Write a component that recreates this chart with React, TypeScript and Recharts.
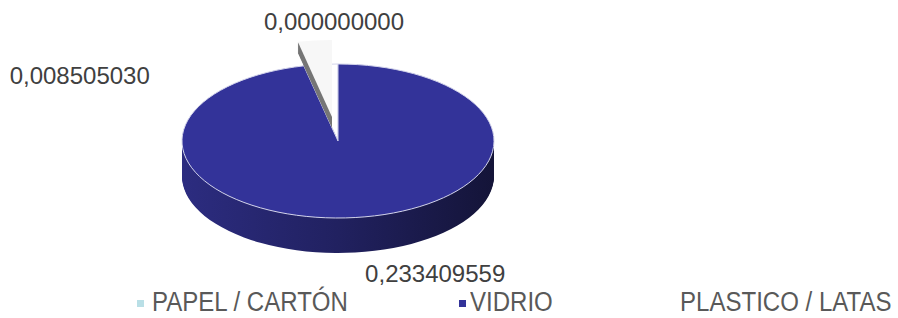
import React from "react";
import { PieChart, Pie, Cell } from "recharts";

// values
const categories = ["PAPEL / CARTÓN", "VIDRIO", "PLASTICO / LATAS"];
const values = [0.00850503, 0.233409559, 0.0];
const legendColors = ["#b9dfe6", "#333399", "#ffffff"];

const data = categories.map((name, i) => ({ name, value: values[i] }));

// layout of the fake 3D pie
const W = 898;
const H = 318;
const CX = 338;
const CY = 141;
const R = 156;
const SQ = 77 / 156;
const DEPTH = 35;
const EXP_X = -6;
const EXP_Y = -24;
const PAPEL_DEPTH = 11;

const sideLayers = Array.from({ length: DEPTH }, (_, i) => DEPTH - i);
const papelLayers = Array.from({ length: PAPEL_DEPTH }, (_, i) => PAPEL_DEPTH - i);

const labelPlace = [
  { dx: -171, dy: 20, anchor: "end" },
  { dx: 80, dy: 64, anchor: "middle" },
  { dx: -4, dy: -34, anchor: "middle" },
];

const legendPlace = [
  { marker: 137, text: 152 },
  { marker: 459, text: 470 },
  { marker: 667, text: 680 },
];

const fmt = (v: number) => v.toFixed(9).replace(".", ",");

const css = `
.squash .recharts-sector, path.squash {
  transform-origin: 0 0;
  transform: scale(1, ${SQ});
  vector-effect: non-scaling-stroke;
}
`;

const renderLabel = (props: any) => {
  const { cx, cy, midAngle, index, value } = props;
  const rad = (midAngle * Math.PI) / 180;
  const x = cx + R * Math.cos(rad);
  const y = cy - R * SQ * Math.sin(rad);
  const p = labelPlace[index];
  return (
    <text
      key={`lbl-${index}`}
      x={x + p.dx}
      y={y + p.dy}
      textAnchor={p.anchor}
      fill="#404040"
      fontSize={24}
      fontFamily="'Liberation Sans', Arial, sans-serif"
    >
      {fmt(value)}
    </text>
  );
};

export default function App() {
  return (
    <div style={{ position: "absolute", left: 0, top: 0, width: W, height: H, overflow: "hidden", background: "#fff" }}>
      <style>{css}</style>
      <PieChart width={W} height={H} margin={{ top: 0, right: 0, bottom: 0, left: 0 }}>
        <defs>
          <linearGradient id="vidrioSide" x1="0" y1="0" x2="1" y2="0">
            <stop offset="0%" stopColor="#2c2c80" />
            <stop offset="50%" stopColor="#212160" />
            <stop offset="100%" stopColor="#141438" />
          </linearGradient>
        </defs>

        {/* side wall of the disc */}
        {sideLayers.map((k) => (
          <Pie
            key={`side-${k}`}
            data={data}
            dataKey="value"
            nameKey="name"
            cx={CX}
            cy={(CY + k) / SQ}
            outerRadius={R}
            startAngle={90}
            endAngle={450}
            stroke="none"
            className="squash"
            isAnimationActive={false}
          >
            {data.map((d, i) => (
              <Cell key={d.name} className="squash" fill={i === 1 ? "url(#vidrioSide)" : "#1b1b50"} />
            ))}
          </Pie>
        ))}

        {/* top face */}
        <Pie
          data={data}
          dataKey="value"
          nameKey="name"
          cx={CX}
          cy={CY / SQ}
          outerRadius={R}
          startAngle={90}
          endAngle={450}
          stroke="#d4d5ec"
          strokeWidth={1}
          className="squash"
          isAnimationActive={false}
        >
          {data.map((d, i) => (
            <Cell key={d.name} className="squash" fill={["#ffffff", "#333399", "none"][i]} />
          ))}
        </Pie>

        {/* exploded small slice */}
        {papelLayers.map((k) => (
          <Pie
            key={`pap-${k}`}
            data={data}
            dataKey="value"
            nameKey="name"
            cx={CX + EXP_X}
            cy={(CY + EXP_Y + k) / SQ}
            outerRadius={R}
            startAngle={90}
            endAngle={450}
            stroke="none"
            className="squash"
            isAnimationActive={false}
          >
            {data.map((d, i) => (
              <Cell key={d.name} className="squash" fill={i === 0 ? "#767676" : "none"} />
            ))}
          </Pie>
        ))}
        <Pie
          data={data}
          dataKey="value"
          nameKey="name"
          cx={CX + EXP_X}
          cy={(CY + EXP_Y) / SQ}
          outerRadius={R}
          startAngle={90}
          endAngle={450}
          stroke="none"
          className="squash"
          isAnimationActive={false}
        >
          {data.map((d, i) => (
            <Cell key={d.name} className="squash" fill={i === 0 ? "#f7f7f7" : "none"} />
          ))}
        </Pie>

        {/* value labels */}
        <Pie
          data={data}
          dataKey="value"
          nameKey="name"
          cx={CX}
          cy={CY}
          outerRadius={R}
          startAngle={90}
          endAngle={450}
          fill="none"
          stroke="none"
          labelLine={false}
          label={renderLabel}
          isAnimationActive={false}
        />
      </PieChart>

      {/* legend */}
      {categories.map((name, i) => (
        <React.Fragment key={name}>
          <div
            style={{
              position: "absolute",
              left: legendPlace[i].marker,
              top: 300,
              width: 7,
              height: 7,
              background: legendColors[i],
            }}
          />
          <div
            style={{
              position: "absolute",
              left: legendPlace[i].text,
              top: 291,
              fontFamily: "'Liberation Sans', Arial, sans-serif",
              fontSize: 27,
              lineHeight: "22px",
              height: 22,
              color: "#595959",
              whiteSpace: "nowrap",
              transform: "scaleX(0.89)",
              transformOrigin: "0 0",
            }}
          >
            {name}
          </div>
        </React.Fragment>
      ))}
    </div>
  );
}
